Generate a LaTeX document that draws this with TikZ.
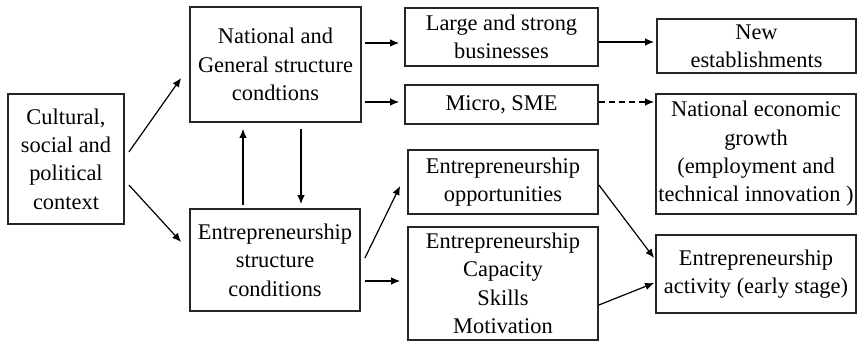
\documentclass[tikz,border=0pt]{standalone}
\usepackage{fontspec}
\setmainfont{Liberation Serif}
\usetikzlibrary{calc,arrows.meta,positioning}
\tikzset{
    block/.style={
    rectangle,draw=black!85,line width=0.9pt,align=center,inner sep=0pt,
    font=\fontsize{11.2}{14.2}\selectfont
    },
    boxsize/.style 2 args={
    minimum width=#1*0.5pt,minimum height=#2*0.5pt
    },
    flow/.style={
    -{Latex[length=4.5pt,width=3.8pt]},line width=0.6pt
    },
    dflow/.style={
    flow,dash pattern=on 3pt off 2pt
    },
}
\begin{document}
\begin{tikzpicture}[x=0.5pt,y=-0.5pt]
   \useasboundingbox (0,0) rectangle (857,341);
   \node[block,boxsize={116}{130}] (cult) at (66,159) {Cultural,\\social and\\political\\context};
   \node[block,boxsize={171}{115}] (nat) at (275.5,64.5) {National and\\General structure\\condtions};
   \node[block,boxsize={170}{102}] (est) at (275,260) {Entrepreneurship\\structure\\conditions};
   \node[block,boxsize={193}{58}] (large) at (501.5,37) {Large and strong\\businesses};
   \node[block,boxsize={193}{39}] (micro) at (501.5,104.5) {Micro, SME};
   \node[block,boxsize={190}{64}] (opp) at (503,182) {Entrepreneurship\\opportunities};
   \node[block,boxsize={190}{113}] (cap) at (503,283.5) {Entrepreneurship\\Capacity\\Skills\\Motivation};
   \node[block,boxsize={199}{54}] (new) at (756.5,46) {New\\establishments};
   \node[block,boxsize={200}{120}] (neg) at (756,154) {National economic\\growth\\(employment and\\technical innovation )};
   \node[block,boxsize={200}{78}] (act) at (756,274) {Entrepreneurship\\activity (early stage)};

  \path[flow]
    ($(cult.east)+(4,-7)$) edge ($(nat.west)+(-8,13.5)$)
    ($(cult.east)+(4,26)$) edge ($(est.west)+(-8,-18)$)
    ($(nat.east)+(3,-21.5)$) edge ($(large.west)+(-5,6)$)
    ($(nat.east)+(3,37.5)$) edge ($(micro.west)+(-5,-2.5)$)
    ($(est.north)+(-32,-3)$) edge ($(nat.south)+(-32.5,6)$)
    ($(nat.south)+(25.5,6)$) edge ($(est.north)+(26,-4)$)
    ($(est.east)+(4,-2)$) edge ($(opp.west)+(-7,4)$)
    ($(est.east)+(4,21)$) edge ($(cap.west)+(-7,-2.5)$)
    ($(large.east)+(0,5)$) edge ($(new.west)+(-2,-4)$)
    ($(opp.east)+(0,3)$) edge ($(act.west)+(-1,-16)$)
    ($(cap.east)+(0,21.5)$) edge ($(act.west)+(-1,9)$);
  \path[dflow]
    ($(micro.east)+(0,-2.5)$) edge ($(neg.west)+(-1,-52)$);
\end{tikzpicture}
\end{document}
